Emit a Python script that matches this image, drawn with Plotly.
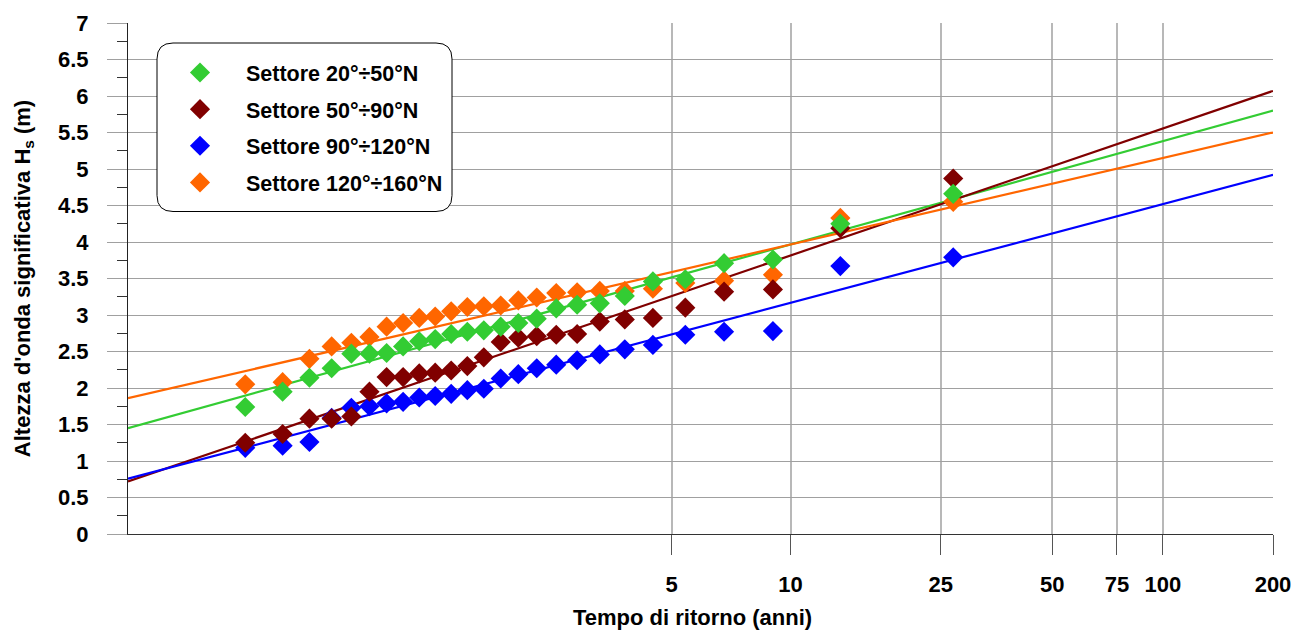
import numpy as np
import plotly.graph_objects as go

# Return periods (years) of the 26 ranked annual maxima (Weibull plotting positions)
return_period = [1.0385, 1.0800, 1.1250, 1.1739, 1.2273, 1.2857, 1.3500, 1.4211,
                 1.5000, 1.5882, 1.6875, 1.8000, 1.9286, 2.0769, 2.2500, 2.4545,
                 2.7000, 3.0000, 3.3750, 3.8571, 4.5000, 5.4000, 6.7500, 9.0000,
                 13.500, 27.000]

# Ranked significant wave heights Hs (m) per directional sector
hs_20_50 = [1.74, 1.95, 2.14, 2.27, 2.47, 2.47, 2.48, 2.57, 2.64, 2.67, 2.74, 2.77, 2.79,
            2.84, 2.89, 2.95, 3.09, 3.14, 3.16, 3.26, 3.46, 3.49, 3.71, 3.76, 4.25, 4.66]
hs_50_90 = [1.25, 1.37, 1.58, 1.58, 1.61, 1.95, 2.15, 2.15, 2.20, 2.21, 2.24, 2.30, 2.42,
            2.63, 2.69, 2.71, 2.73, 2.74, 2.91, 2.94, 2.96, 3.10, 3.32, 3.35, 4.19, 4.87]
hs_90_120 = [1.18, 1.21, 1.26, 1.59, 1.73, 1.75, 1.79, 1.81, 1.87, 1.89, 1.92, 1.97, 1.99,
             2.13, 2.19, 2.27, 2.32, 2.38, 2.46, 2.53, 2.59, 2.73, 2.77, 2.78, 3.67, 3.79]
hs_120_160 = [2.05, 2.08, 2.40, 2.57, 2.62, 2.70, 2.84, 2.89, 2.96, 2.98, 3.05, 3.11, 3.12,
              3.13, 3.20, 3.24, 3.30, 3.31, 3.33, 3.33, 3.36, 3.44, 3.47, 3.55, 4.33, 4.55]

# Gumbel fits: (location, scale) in metres
fit_20_50 = (2.613, 0.6018)
fit_50_90 = (2.150, 0.7401)
fit_90_120 = (1.870, 0.5759)
fit_120_160 = (2.833, 0.5036)

sector_names = ["Settore 20°÷50°N", "Settore 50°÷90°N",
                "Settore 90°÷120°N", "Settore 120°÷160°N"]
sector_colors = ["#33CC33", "#800000", "#0000FF", "#FF6600"]

tick_periods = [5, 10, 25, 50, 75, 100, 200]
tick_labels = ["5", "10", "25", "50", "75", "100", "200"]


def gumbel_variate(T):
    """Gumbel reduced variate of a return period T (years)."""
    T = np.asarray(T, dtype=float)
    return -np.log(-np.log(1.0 - 1.0 / T))


# probability-paper horizontal extent: non-exceedance 0.001 up to T = 200 years
x_lo = float(-np.log(-np.log(0.001)))
x_hi = float(gumbel_variate(200))

FONT = "Liberation Sans Narrow, Arial Narrow, Liberation Sans, Arial, sans-serif"
FS = 22
W, H = 1303, 633
ML, MR, MT, MB = 128, 30, 23, 99
PW, PH = W - ML - MR, H - MT - MB


def px_x(p):
    return (p - ML) / PW


def px_y(p):
    return (H - MB - p) / PH


fig = go.Figure()

series = [hs_20_50, hs_50_90, hs_90_120, hs_120_160]
fits = [fit_20_50, fit_50_90, fit_90_120, fit_120_160]
xs = gumbel_variate(return_period)

# fitted lines
x_line = np.array([x_lo, x_hi])
for name, col, (loc, scale) in zip(sector_names, sector_colors, fits):
    fig.add_trace(go.Scatter(
        x=x_line, y=loc + scale * x_line, mode="lines",
        line=dict(color=col, width=2.2), showlegend=False, hoverinfo="skip",
        legendgroup=name))

# ranked observations (orange underneath, green on top)
for k in [3, 2, 1, 0]:
    fig.add_trace(go.Scatter(
        x=xs, y=series[k], mode="markers", name=sector_names[k],
        legendgroup=sector_names[k], legendrank=k + 1,
        marker=dict(symbol="diamond", size=15.5, color=sector_colors[k],
                    line=dict(width=0))))

# rounded legend frame
bx0, bx1, by0, by1, rad = 157, 452, 43, 211.5, 16
rx, ry = rad / PW, rad / PH
X0, X1, Y0, Y1 = px_x(bx0), px_x(bx1), px_y(by1), px_y(by0)
path = (f"M {X0 + rx},{Y1} L {X1 - rx},{Y1} Q {X1},{Y1} {X1},{Y1 - ry} "
        f"L {X1},{Y0 + ry} Q {X1},{Y0} {X1 - rx},{Y0} L {X0 + rx},{Y0} "
        f"Q {X0},{Y0} {X0},{Y0 + ry} L {X0},{Y1 - ry} Q {X0},{Y1} {X0 + rx},{Y1} Z")
fig.add_shape(type="path", path=path, xref="paper", yref="paper",
              line=dict(color="black", width=1), fillcolor="white", layer="above")

fig.add_annotation(text="Tempo di ritorno (anni)", xref="paper", yref="paper",
                   x=px_x(692), y=px_y(617), xanchor="center", yanchor="middle",
                   showarrow=False,
                   font=dict(family=FONT, size=FS, color="black", weight="bold"))

fig.update_layout(
    width=W, height=H,
    margin=dict(l=ML, r=MR, t=MT, b=MB),
    paper_bgcolor="white", plot_bgcolor="white",
    font=dict(family=FONT, size=FS, color="black", weight="bold"),
    showlegend=True,
    legend=dict(x=px_x(154), y=px_y(52), xanchor="left", yanchor="top",
                bgcolor="rgba(0,0,0,0)", borderwidth=0, itemwidth=82,
                tracegroupgap=5.7, font=dict(family=FONT, size=21.5, weight="bold")),
    xaxis=dict(
        range=[x_lo, x_hi], tickmode="array",
        tickvals=gumbel_variate(tick_periods), ticktext=tick_labels,
        showgrid=True, gridcolor="#B8B8B8", gridwidth=1.5,
        ticks="outside", ticklen=20, tickcolor="#555555", tickwidth=1,
        showline=True, linecolor="#333333", linewidth=1,
        zeroline=False, ticklabelstandoff=11,
        tickfont=dict(family=FONT, size=FS, weight="bold")),
    yaxis=dict(
        range=[0, 7], tickmode="linear", tick0=0, dtick=0.5,
        showgrid=True, gridcolor="#A0A0A0", gridwidth=1,
        ticks="outside", ticklen=20, tickcolor="#A0A0A0", tickwidth=1,
        showline=True, linecolor="#222222", linewidth=1,
        zeroline=False, ticklabelstandoff=14,
        minor=dict(dtick=0.25, ticks="outside", ticklen=10, tickcolor="#333333",
                   showgrid=False),
        title=dict(text="Altezza d'onda significativa H<sub>s</sub> (m)",
                   standoff=21, font=dict(family=FONT, size=FS, weight="bold")),
        tickfont=dict(family=FONT, size=FS, weight="bold")),
)

fig.write_html("out.html")
